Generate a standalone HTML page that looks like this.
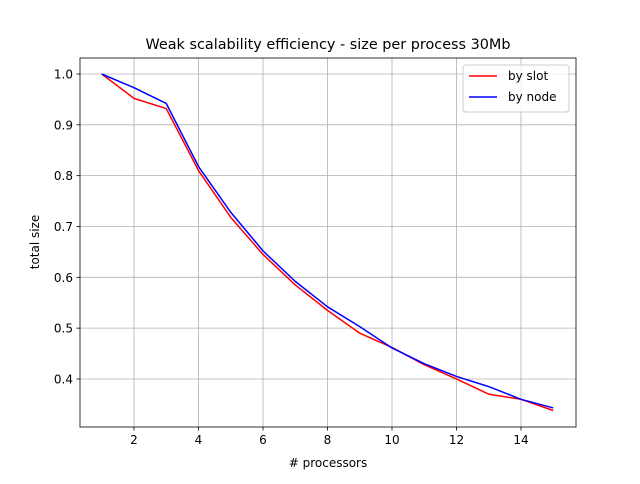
<!DOCTYPE html>
<html><head><meta charset="utf-8"><style>
body{margin:0;background:#fff;font-family:"DejaVu Sans","Liberation Sans",sans-serif;}
svg text{font-family:"DejaVu Sans","Liberation Sans",sans-serif;}
</style></head><body>
<svg id="chart" width="640" height="480" xmlns="http://www.w3.org/2000/svg">
<rect width="640" height="480" fill="#fff"/>
<g id="grid"></g>
<g id="series"></g>
<rect x="80" y="58" width="496" height="369" fill="none" stroke="#000" stroke-width="0.8"/>
<g id="ticks"></g>
<text x="328" y="49" text-anchor="middle" font-size="14.4">Weak scalability efficiency - size per process 30Mb</text>
<text x="328" y="467" text-anchor="middle" font-size="12"># processors</text>
<text x="39" y="242" text-anchor="middle" font-size="12" transform="rotate(-90 39 242)">total size</text>
<g>
<rect x="463" y="65" width="106" height="47" rx="3" fill="#fff" fill-opacity="0.8" stroke="#ccc"/>
<g><line x1="469" y1="76" x2="497" y2="76" stroke="#f00" stroke-width="1.5"/><text x="508" y="80" font-size="12">by slot</text></g>
<g><line x1="469" y1="97" x2="497" y2="97" stroke="#00f" stroke-width="1.5"/><text x="508" y="101" font-size="12">by node</text></g>
</g>
</svg>
<script>
const processors=[1,2,3,4,5,6,7,8,9,10,11,12,13,14,15];
const bySlot=[1.0,0.952,0.932,0.81,0.718,0.645,0.585,0.535,0.49,0.462,0.428,0.4,0.37,0.36,0.338];
const byNode=[1.0,0.973,0.942,0.818,0.728,0.652,0.592,0.542,0.503,0.461,0.43,0.405,0.385,0.36,0.343];
const xTicks=[2,4,6,8,10,12,14];
const yTicks=[0.4,0.5,0.6,0.7,0.8,0.9,1.0];
const NS="http://www.w3.org/2000/svg";
function xs(v){return 101.75+(v-1)*32.25;}
function ys(v){return 74+(1.0-v)*508.3;}
function mk(tag,attrs,parent){const e=document.createElementNS(NS,tag);for(const k in attrs)e.setAttribute(k,attrs[k]);document.getElementById(parent).appendChild(e);return e;}
xTicks.forEach(t=>{
 const g=mk('line',{x1:xs(t),x2:xs(t),y1:58,y2:427,stroke:'#b0b0b0','stroke-width':0.8},'grid');
 
 
 mk('line',{x1:xs(t),x2:xs(t),y1:427,y2:430.5,stroke:'#000','stroke-width':0.8},'ticks');
 const tx=mk('text',{x:xs(t),y:444,'text-anchor':'middle','font-size':12},'ticks');
 tx.textContent=t;
 
 
});
yTicks.forEach(t=>{
 const g=mk('line',{x1:80,x2:576,y1:ys(t),y2:ys(t),stroke:'#b0b0b0','stroke-width':0.8},'grid');
 
 
 mk('line',{x1:76.5,x2:80,y1:ys(t),y2:ys(t),stroke:'#000','stroke-width':0.8},'ticks');
 const tx=mk('text',{x:73,y:ys(t)+4.5,'text-anchor':'end','font-size':12},'ticks');
 tx.textContent=t.toFixed(1);
 
 
});
function line(vals,color,name){
 const p=mk('polyline',{points:processors.map((x,i)=>xs(x)+','+ys(vals[i])).join(' '),fill:'none',stroke:color,'stroke-width':1.5,'stroke-linejoin':'round'},'series');
 
 
}
line(bySlot,'#f00','by-slot-line');
line(byNode,'#00f','by-node-line');
</script>
</body></html>
